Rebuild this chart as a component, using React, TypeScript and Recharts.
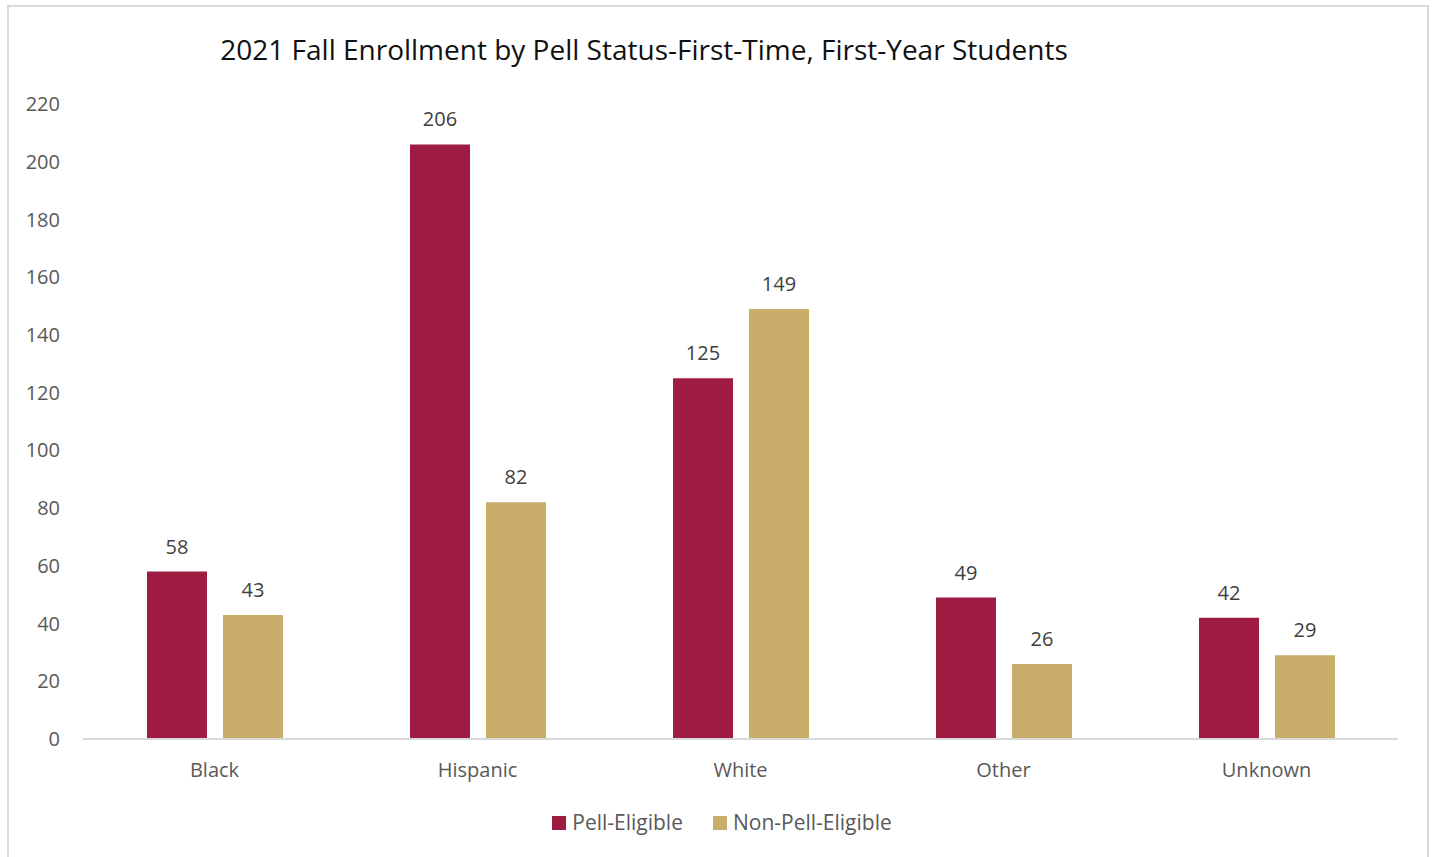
import { ComposedChart, Bar, XAxis, YAxis, LabelList, Legend } from 'recharts';

const categories = ['Black', 'Hispanic', 'White', 'Other', 'Unknown'];
const pellEligible = [58, 206, 125, 49, 42];
const nonPellEligible = [43, 82, 149, 26, 29];
const yTicks = [0, 20, 40, 60, 80, 100, 120, 140, 160, 180, 200, 220];

const MAROON = '#9E1B42';
const GOLD = '#C9AD6A';
const TEXT = '#595959';
const FONT = '"Open Sans", sans-serif';

const data = categories.map((c, i) => ({
  category: c,
  pell: pellEligible[i],
  nonPell: nonPellEligible[i],
}));

function LegendContent() {
  const items = [
    { name: 'Pell-Eligible', color: MAROON },
    { name: 'Non-Pell-Eligible', color: GOLD },
  ];
  return (
    <div style={{ display: 'flex', justifyContent: 'center', gap: 30, paddingLeft: 10, fontFamily: FONT, fontSize: 21, color: TEXT, lineHeight: '27px' }}>
      {items.map(it => (
        <div key={it.name} style={{ display: 'flex', alignItems: 'center' }}>
          <span style={{ width: 14, height: 14, background: it.color, display: 'inline-block', marginRight: 6 }} />
          <span>{it.name}</span>
        </div>
      ))}
    </div>
  );
}

export default function App() {
  return (
    <div style={{ position: 'fixed', left: 0, top: 0, width: 1434, height: 857, background: '#fff', overflow: 'hidden' }}>
      <div style={{ position: 'absolute', left: 7, top: 5, width: 1422, height: 900, border: '2px solid #D9D9D9', boxSizing: 'border-box' }} />
      <div style={{ position: 'absolute', left: 0, width: 1288, top: 30, textAlign: 'center', fontFamily: FONT, fontSize: 28, color: '#111' }}>
        2021 Fall Enrollment by Pell Status-First-Time, First-Year Students
      </div>
      <div style={{ position: 'absolute', left: 0, top: 0 }}>
        <ComposedChart width={1434} height={857} data={data} margin={{ top: 104, right: 36, left: 0, bottom: 61 }} barGap={16} barSize={60}>
          <XAxis
            dataKey="category"
            height={30}
            axisLine={{ stroke: '#D9D9D9', strokeWidth: 2 }}
            tickLine={false}
            tickMargin={18}
            tick={{ fill: TEXT, fontSize: 20, fontFamily: FONT }}
          />
          <YAxis
            width={83}
            domain={[0, 220]}
            ticks={yTicks}
            interval={0}
            axisLine={false}
            tickLine={false}
            tickMargin={17}
            tick={{ fill: TEXT, fontSize: 20, fontFamily: FONT }}
          />
          <Legend verticalAlign="bottom" wrapperStyle={{ top: 809, left: 0, width: 1434 }} content={<LegendContent />} />
          <Bar dataKey="pell" name="Pell-Eligible" fill={MAROON} isAnimationActive={false}>
            <LabelList dataKey="pell" position="top" offset={18} fill="#404040" fontSize={20} fontFamily={FONT} />
          </Bar>
          <Bar dataKey="nonPell" name="Non-Pell-Eligible" fill={GOLD} isAnimationActive={false}>
            <LabelList dataKey="nonPell" position="top" offset={18} fill="#404040" fontSize={20} fontFamily={FONT} />
          </Bar>
        </ComposedChart>
      </div>
    </div>
  );
}
